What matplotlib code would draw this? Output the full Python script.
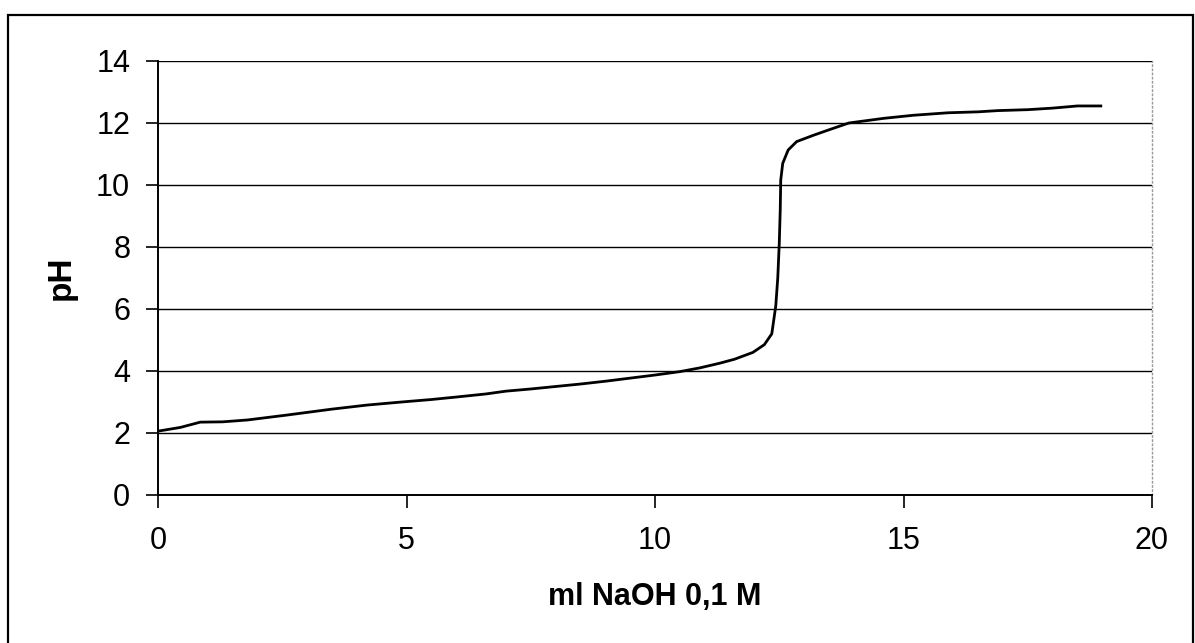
import matplotlib
matplotlib.use("Agg")
import matplotlib.pyplot as plt
from matplotlib.patches import Rectangle

# titration curve
ml_naoh = [0.0, 0.45, 0.85, 1.3, 1.8, 2.6, 3.5, 4.2, 4.9, 5.5, 6.0, 6.6, 7.0,
           7.5, 8.0, 8.5, 9.0, 9.5, 10.0, 10.5, 10.9, 11.3, 11.6, 11.97, 12.2,
           12.35, 12.43, 12.47, 12.5, 12.52, 12.53, 12.57, 12.68, 12.85, 13.18,
           13.5, 13.9, 14.6, 15.2, 15.9, 16.5, 16.9, 17.5, 18.0, 18.5, 18.97]
ph = [2.06, 2.18, 2.35, 2.36, 2.42, 2.58, 2.77, 2.9, 3.0, 3.08, 3.16, 3.26, 3.35,
      3.42, 3.5, 3.58, 3.67, 3.77, 3.87, 3.98, 4.1, 4.25, 4.38, 4.6, 4.85,
      5.2, 6.1, 7.0, 8.1, 9.2, 10.16, 10.7, 11.13, 11.4, 11.6,
      11.78, 12.0, 12.15, 12.25, 12.33, 12.36, 12.4, 12.43, 12.48, 12.55, 12.55]

xticks = [0, 5, 10, 15, 20]
yticks = [0, 2, 4, 6, 8, 10, 12, 14]

plt.rcParams['font.family'] = ['Liberation Sans', 'DejaVu Sans']

W, H = 1195, 643
fig = plt.figure(figsize=(W / 100, H / 100), dpi=100)
ax = fig.add_axes([158 / W, 1 - 495 / H, (1152 - 158) / W, (495 - 61) / H])

ax.plot(ml_naoh, ph, color='black', lw=2)

ax.set_xlim(0, 20)
ax.set_ylim(0, 14)
ax.set_xticks(xticks)
ax.set_yticks(yticks)
ax.tick_params(axis='both', direction='out', length=9, width=1.2, labelsize=22,
               color='black')
ax.tick_params(axis='x', pad=13)
ax.tick_params(axis='y', pad=11)
ax.grid(axis='y', color='black', lw=1)
ax.set_axisbelow(True)

ax.spines['top'].set_visible(False)
ax.spines['left'].set_linewidth(1.4)
ax.spines['bottom'].set_linewidth(1.4)
ax.spines['right'].set_color('#999999')
ax.spines['right'].set_linestyle((0, (1, 2)))
ax.spines['right'].set_linewidth(1)

ax.set_xlabel('ml NaOH 0,1 M', fontsize=22, fontweight='bold', labelpad=19)
ax.set_ylabel('pH', fontsize=24, fontweight='bold', labelpad=14)

# outer chart frame
fig.patches.append(Rectangle((8 / W, -0.05), (1193 - 8) / W, 1.05 - 15 / H,
                             transform=fig.transFigure, fill=False,
                             edgecolor='black', lw=1.6))

fig.savefig('out.png', dpi=100)
